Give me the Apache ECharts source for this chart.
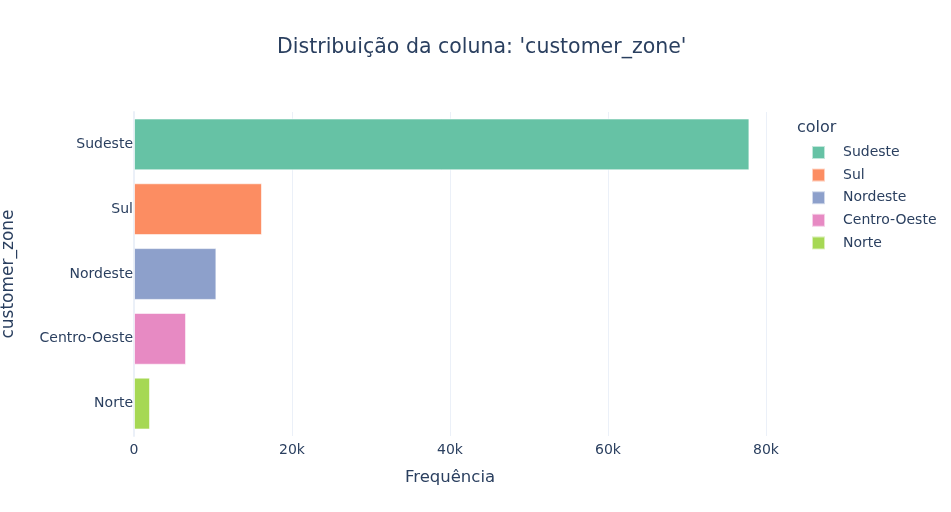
<!DOCTYPE html>
<html>
<head>
<meta charset="utf-8">
<script src="https://cdn.jsdelivr.net/npm/echarts@6/dist/echarts.min.js"></script>
<style>
  html, body { margin: 0; padding: 0; background: #fff; }
  #chart { width: 951px; height: 512px; }
</style>
</head>
<body>
<div id="chart"></div>
<script>
const zones = ['Sudeste', 'Sul', 'Nordeste', 'Centro-Oeste', 'Norte']
const counts = [77900, 16200, 10430, 6590, 2030]
const colors = ['#66c2a5', '#fc8d62', '#8da0cb', '#e78ac3', '#a6d854']

const textColor = '#2a3f5f'
const gridColor = '#EBF0F8'
const font = '"DejaVu Sans", Verdana, sans-serif'

const chart = echarts.init(document.getElementById('chart'))

// one series per zone so each gets its own legend entry; stacked to share the band
const series = zones.map((z, i) => ({
  name: z,
  type: 'bar',
  stack: 'all',
  barWidth: '80%',
  data: zones.map((_, j) => (j === i ? counts[i] : '-')),
  itemStyle: {
    color: colors[i],
    borderColor: 'rgba(255,255,255,0.6)',
    borderWidth: 1
  },
  emphasis: { disabled: true }
}))

chart.setOption({
  backgroundColor: '#fff',
  animation: false,
  textStyle: { fontFamily: font },
  title: [
    {
      text: "Distribuição da coluna: 'customer_zone'",
      left: 272,
      top: 32,
      textStyle: { color: textColor, fontSize: 20.5, fontWeight: 'normal', fontFamily: font }
    },
    {
      text: 'color',
      left: 792,
      top: 115,
      textStyle: { color: textColor, fontSize: 16, fontWeight: 'normal', fontFamily: font }
    }
  ],
  legend: {
    data: zones,
    orient: 'vertical',
    left: 806,
    top: 140,
    icon: 'rect',
    itemWidth: 13,
    itemHeight: 13,
    itemGap: 7.6,
    textStyle: { color: textColor, fontSize: 14, lineHeight: 15, fontFamily: font, padding: [0, 0, 0, 13] }
  },
  grid: { left: 134, right: 185, top: 112, height: 324, outerBoundsMode: 'none', containLabel: false },
  xAxis: {
    type: 'value',
    min: 0,
    max: 80000,
    interval: 20000,
    name: 'Frequência',
    nameLocation: 'middle',
    nameGap: 33,
    nameTextStyle: { color: textColor, fontSize: 16.5, fontFamily: font },
    axisLine: { show: false },
    axisTick: { show: false },
    axisLabel: {
      color: textColor,
      fontSize: 14,
      margin: 7,
      formatter: v => (v === 0 ? '0' : v / 1000 + 'k')
    },
    splitLine: { show: true, lineStyle: { color: gridColor, width: 1 } }
  },
  yAxis: {
    type: 'category',
    data: zones,
    inverse: true,
    name: 'customer_zone',
    nameLocation: 'middle',
    nameGap: 117,
    nameRotate: 90,
    nameTextStyle: { color: textColor, fontSize: 17, fontFamily: font },
    axisLine: { show: true, lineStyle: { color: gridColor, width: 2 } },
    axisTick: { show: false },
    axisLabel: { color: textColor, fontSize: 14, margin: 1 },
    splitLine: { show: false }
  },
  series: series
})
</script>
</body>
</html>
